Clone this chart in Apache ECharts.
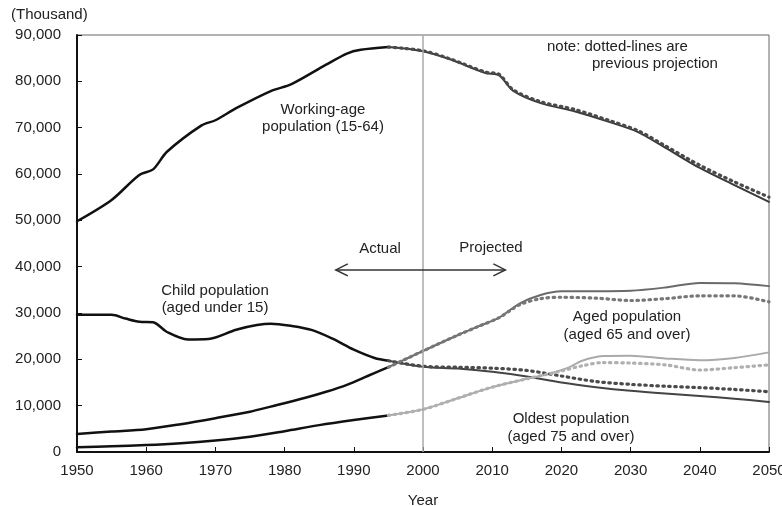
<!DOCTYPE html>
<html>
<head>
<meta charset="utf-8">
<script src="https://cdn.jsdelivr.net/npm/echarts@6/dist/echarts.min.js"></script>
<style>
html,body{margin:0;padding:0;background:#fff;}
#chart{width:782px;height:506px;}
</style>
</head>
<body>
<div id="chart"></div>
<script>
// ---- Data (thousand persons) ----
const workActual = [[1950,49800],[1955,54400],[1959,59800],[1961,61000],[1963,64800],[1968,70500],[1970,71600],[1973,74200],[1978,77900],[1981,79400],[1986,83600],[1989,86000],[1991,86800],[1995,87400]];
const workProj   = [[1995,87400],[2000,86500],[2004,84700],[2009,81800],[2011,81300],[2013,78000],[2017,75300],[2022,73500],[2027,71200],[2031,69100],[2035,65700],[2040,61300],[2045,57600],[2050,54000]];
const workPrev   = [[1995,87400],[2000,86600],[2004,84800],[2009,82000],[2011,81500],[2013,78200],[2017,75600],[2022,73900],[2027,71500],[2031,69400],[2035,66100],[2040,61900],[2045,58300],[2050,55000]];

const childActual = [[1950,29600],[1955,29600],[1957,28800],[1959,28100],[1961,28000],[1963,25900],[1966,24300],[1969,24400],[1973,26400],[1976,27400],[1978,27700],[1981,27200],[1984,26300],[1987,24400],[1990,22100],[1993,20300],[1995,19700]];
const childProj   = [[1995,19700],[2000,18400],[2005,18000],[2010,17300],[2015,16300],[2020,15000],[2025,14000],[2030,13200],[2035,12600],[2040,12100],[2045,11500],[2050,10800]];
const childPrev   = [[1995,19700],[2000,18500],[2005,18300],[2010,18100],[2015,17600],[2020,16400],[2025,15200],[2030,14600],[2035,14200],[2040,13900],[2045,13500],[2050,13000]];

const agedActual = [[1950,3900],[1955,4400],[1960,4900],[1965,6000],[1970,7300],[1975,8700],[1978,9800],[1983,11700],[1986,13000],[1989,14500],[1992,16400],[1995,18300]];
const agedProj   = [[1995,18300],[2000,21800],[2005,25200],[2008,27100],[2011,29000],[2014,32100],[2017,33900],[2020,34700],[2025,34700],[2030,34800],[2035,35500],[2040,36500],[2045,36400],[2050,35800]];
const agedPrev   = [[1995,18300],[2000,21800],[2005,25200],[2008,27100],[2011,29000],[2014,31800],[2017,33100],[2020,33400],[2025,33200],[2030,32700],[2035,33100],[2040,33700],[2045,33700],[2050,32400]];

const oldestActual = [[1950,1000],[1955,1250],[1960,1500],[1965,1900],[1970,2500],[1975,3300],[1980,4500],[1985,5800],[1990,6900],[1995,7900]];
const oldestProj   = [[1995,7900],[2000,9200],[2005,11600],[2010,14000],[2015,15800],[2018,16800],[2021,18200],[2023,19700],[2026,20700],[2030,20800],[2035,20200],[2040,19800],[2045,20300],[2050,21500]];
const oldestPrev   = [[1995,7900],[2000,9200],[2005,11600],[2010,14000],[2015,15800],[2018,16800],[2020,17500],[2023,18600],[2026,19300],[2030,19200],[2035,18800],[2040,17700],[2045,18200],[2050,18800]];

const xTicks = {min:1950, max:2050, step:10};
const yTicks = {min:0, max:90000, step:10000};

const FONT = "'Liberation Sans', Arial, sans-serif";
const FS = 15;

function solid(name, data, color, width){
  return {name, type:'line', data, showSymbol:false, smooth:0.3, z:3,
    lineStyle:{color, width, cap:'round', join:'round'}, silent:true};
}
function dotted(name, data, color){
  return {name, type:'line', data, showSymbol:false, smooth:0.3, z:4,
    lineStyle:{color, width:3.2, type:[1.5,4.5], cap:'round'}, silent:true};
}

const chart = echarts.init(document.getElementById('chart'), null, {renderer:'canvas'});

const series = [
  solid('Working-age actual', workActual, '#111', 2.5),
  solid('Working-age projection', workProj, '#3a3a3a', 2),
  dotted('Working-age previous', workPrev, '#4a4a4a'),
  solid('Child actual', childActual, '#111', 2.5),
  solid('Child projection', childProj, '#444', 2),
  dotted('Child previous', childPrev, '#4a4a4a'),
  solid('Aged actual', agedActual, '#111', 2.5),
  solid('Aged projection', agedProj, '#6a6a6a', 2),
  dotted('Aged previous', agedPrev, '#777'),
  solid('Oldest actual', oldestActual, '#111', 2.5),
  solid('Oldest projection', oldestProj, '#aaa', 2),
  dotted('Oldest previous', oldestPrev, '#b0b0b0')
];
series[0].markLine = {
  silent:true, symbol:['none','none'], label:{show:false},
  lineStyle:{color:'#a8a8a8', width:1.5, type:'solid'},
  data:[{xAxis:2000}]
};

const textStyle = {font:FS + 'px ' + FONT, fill:'#222', align:'center', verticalAlign:'middle'};
function txt(t, x, y, extra){
  return {type:'text', silent:true, z:10, style:Object.assign({}, textStyle, {text:t, x, y}, extra||{})};
}

chart.setOption({
  animation:false,
  backgroundColor:'#fff',
  grid:{left:77, right:13, top:35, bottom:54, show:true, borderColor:'#666', borderWidth:1,
        containLabel:false, outerBoundsMode:'none'},
  xAxis:{
    type:'value', min:xTicks.min, max:xTicks.max, interval:xTicks.step,
    name:'Year', nameLocation:'middle', nameGap:41,
    nameTextStyle:{fontFamily:FONT, fontSize:FS, color:'#222'},
    axisLine:{show:true, lineStyle:{color:'#111', width:2}},
    axisTick:{show:true, inside:true, length:5, lineStyle:{color:'#111', width:1}},
    axisLabel:{fontFamily:FONT, fontSize:FS, color:'#222', margin:11, formatter:v => String(v)},
    splitLine:{show:false}
  },
  yAxis:{
    type:'value', min:yTicks.min, max:yTicks.max, interval:yTicks.step,
    axisLine:{show:true, lineStyle:{color:'#111', width:2}},
    axisTick:{show:true, inside:true, length:5, lineStyle:{color:'#111', width:1}},
    axisLabel:{fontFamily:FONT, fontSize:FS, color:'#222', margin:16,
      formatter:v => v.toLocaleString('en-US')},
    splitLine:{show:false}
  },
  series
});

// annotations & arrow
function px(x, y){ return chart.convertToPixel({gridIndex:0}, [x, y]); }
const arrowY = 39300, arrowL = 1987.4, arrowR = 2011.9;
const L = px(arrowL, arrowY), R = px(arrowR, arrowY);
const head = 12, half = 6;
chart.setOption({
  graphic:[
    txt('(Thousand)', 11, 15, {align:'left'}),
    txt('note: dotted-lines are', 547, 47, {align:'left'}),
    txt('previous projection', 592, 64, {align:'left'}),
    txt('Working-age', 323, 110),
    txt('population (15-64)', 323, 127),
    txt('Child population', 215, 291),
    txt('(aged under 15)', 215, 308),
    txt('Actual', 380, 249),
    txt('Projected', 491, 248),
    txt('Aged population', 627, 317),
    txt('(aged 65 and over)', 627, 335),
    txt('Oldest population', 571, 419),
    txt('(aged 75 and over)', 571, 437),
    {type:'polyline', silent:true, z:10, shape:{points:[L, R]}, style:{stroke:'#333', lineWidth:1.5, fill:null}},
    {type:'polyline', silent:true, z:10, shape:{points:[[L[0]+head, L[1]-half], L, [L[0]+head, L[1]+half]]}, style:{stroke:'#333', lineWidth:1.5, fill:null}},
    {type:'polyline', silent:true, z:10, shape:{points:[[R[0]-head, R[1]-half], R, [R[0]-head, R[1]+half]]}, style:{stroke:'#333', lineWidth:1.5, fill:null}}
  ]
});
</script>
</body>
</html>
